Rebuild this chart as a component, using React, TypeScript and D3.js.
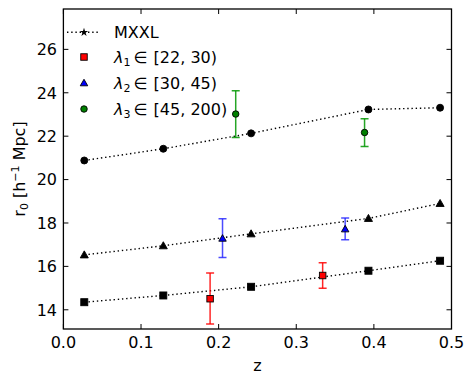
import React from "react";
import * as d3 from "d3";

const mxxlZ = [0.0269, 0.1287, 0.2418, 0.393, 0.4853];
const mxxlSample1 = [14.35, 14.66, 15.06, 15.8, 16.26];
const mxxlSample2 = [16.53, 16.95, 17.5, 18.21, 18.9];
const mxxlSample3 = [20.88, 21.42, 22.13, 23.23, 23.31];

const s1Z = [0.189, 0.334];
const s1R = [14.51, 15.58];
const s1Lo = [13.34, 14.99];
const s1Hi = [15.7, 16.17];

const s2Z = [0.205, 0.363];
const s2R = [17.29, 17.72];
const s2Lo = [16.41, 17.23];
const s2Hi = [18.19, 18.23];

const s3Z = [0.222, 0.388];
const s3R = [23.02, 22.17];
const s3Lo = [21.94, 21.53];
const s3Hi = [24.09, 22.8];

const xTicks = [0.0, 0.1, 0.2, 0.3, 0.4, 0.5];
const yTicks = [14, 16, 18, 20, 22, 24, 26];

const W = 474;
const H = 385;
const L = 63.4, R = 451.5, T = 9, B = 329;
const FONT = "DejaVu Sans";

const x = d3.scaleLinear().domain([0, 0.5]).range([L, R]);
const y = d3.scaleLinear().domain([13.115, 27.86]).range([B, T]);

function Marker({ shape, cx, cy, fill, size = 7 }: any) {
  const h = size / 2;
  if (shape === "s")
    return <rect x={cx - h} y={cy - h} width={size} height={size} fill={fill} stroke="black" strokeWidth={0.9} />;
  if (shape === "o")
    return <circle cx={cx} cy={cy} r={h} fill={fill} stroke="black" strokeWidth={0.9} />;
  if (shape === "^") {
    const r = h * 1.15;
    return (
      <path
        d={`M${cx},${cy - r} L${cx + r},${cy + r * 0.75} L${cx - r},${cy + r * 0.75} Z`}
        fill={fill}
        stroke="black"
        strokeWidth={0.9}
      />
    );
  }
  const star = d3.symbol(d3.symbolStar, 22)();
  return <path d={star as string} transform={`translate(${cx},${cy})`} fill={fill} />;
}

function Series({ zs, rs, shape }: any) {
  const gen = d3
    .line<[number, number]>()
    .x((d) => x(d[0]))
    .y((d) => y(d[1]));
  const pts: [number, number][] = zs.map((z: number, i: number) => [z, rs[i]]);
  return (
    <g>
      <path d={gen(pts) as string} fill="none" stroke="black" strokeWidth={1.4} strokeDasharray="1.4 2.8" />
      {pts.map((p, i) => (
        <Marker key={i} shape={shape} cx={x(p[0])} cy={y(p[1])} fill="black" />
      ))}
    </g>
  );
}

function ErrSeries({ zs, rs, lo, hi, shape, fill, ecolor }: any) {
  return (
    <g>
      {zs.map((z: number, i: number) => {
        const cx = x(z);
        return (
          <g key={i}>
            <line x1={cx} x2={cx} y1={y(lo[i])} y2={y(hi[i])} stroke={ecolor} strokeWidth={1.5} />
            <line x1={cx - 4} x2={cx + 4} y1={y(lo[i])} y2={y(lo[i])} stroke={ecolor} strokeWidth={1.5} />
            <line x1={cx - 4} x2={cx + 4} y1={y(hi[i])} y2={y(hi[i])} stroke={ecolor} strokeWidth={1.5} />
            <Marker shape={shape} cx={cx} cy={y(rs[i])} fill={fill} size={6.5} />
          </g>
        );
      })}
    </g>
  );
}

export default function App() {
  const legendX = 84;
  const textX = 114;
  const legendRows = [
    { y: 32.3, shape: "*", fill: "black", lo: "", sub: "", rest: "MXXL" },
    { y: 57, shape: "s", fill: "#ff0000", lo: "λ", sub: "1", rest: "[22, 30)" },
    { y: 83, shape: "^", fill: "#0000ff", lo: "λ", sub: "2", rest: "[30, 45)" },
    { y: 109, shape: "o", fill: "#008000", lo: "λ", sub: "3", rest: "[45, 200)" },
  ];
  return (
    <svg width={W} height={H} style={{ position: "absolute", left: 0, top: 0 }} fontFamily={FONT}>
      <rect width={W} height={H} fill="white" />
      <defs>
        <clipPath id="clip">
          <rect x={L} y={T} width={R - L} height={B - T} />
        </clipPath>
      </defs>

      <g clipPath="url(#clip)">
        <Series zs={mxxlZ} rs={mxxlSample1} shape="s" />
        <Series zs={mxxlZ} rs={mxxlSample2} shape="^" />
        <Series zs={mxxlZ} rs={mxxlSample3} shape="o" />
        <ErrSeries zs={s1Z} rs={s1R} lo={s1Lo} hi={s1Hi} shape="s" fill="#ff0000" ecolor="rgba(255,0,0,0.85)" />
        <ErrSeries zs={s2Z} rs={s2R} lo={s2Lo} hi={s2Hi} shape="^" fill="#0000ff" ecolor="rgba(30,30,255,0.8)" />
        <ErrSeries zs={s3Z} rs={s3R} lo={s3Lo} hi={s3Hi} shape="o" fill="#008000" ecolor="rgba(0,150,0,0.85)" />
      </g>

      {xTicks.map((t) => (
        <g key={"x" + t}>
          <line x1={x(t)} x2={x(t)} y1={B} y2={B - 5} stroke="black" strokeWidth={1} />
          <line x1={x(t)} x2={x(t)} y1={T} y2={T + 5} stroke="black" strokeWidth={1} />
          <text x={x(t)} y={348} fontSize={16} textAnchor="middle" fill="black">
            {t.toFixed(1)}
          </text>
        </g>
      ))}
      {yTicks.map((t) => (
        <g key={"y" + t}>
          <line x1={L} x2={L + 5} y1={y(t)} y2={y(t)} stroke="black" strokeWidth={1} />
          <line x1={R} x2={R - 5} y1={y(t)} y2={y(t)} stroke="black" strokeWidth={1} />
          <text x={57} y={y(t)} dy="0.36em" fontSize={16} textAnchor="end" fill="black">
            {t}
          </text>
        </g>
      ))}

      <rect x={L} y={T} width={R - L} height={B - T} fill="none" stroke="black" strokeWidth={1.3} />

      {legendRows.map((r, i) => (
        <g key={i}>
          {i === 0 && (
            <line x1={67} x2={98} y1={r.y} y2={r.y} stroke="black" strokeWidth={1.4} strokeDasharray="1.4 2.8" />
          )}
          <Marker shape={r.shape} cx={legendX} cy={r.y} fill={r.fill} size={6.5} />
          <text x={textX} y={r.y} dy="0.36em" fontSize={16} fill="black">
            {r.lo ? (
              <>
                <tspan fontStyle="italic">{r.lo}</tspan>
                <tspan fontSize={11} dy={3}>{r.sub}</tspan>
                <tspan dy={-3}>{"\u2009∈"}</tspan>
                <tspan dx={6}>{r.rest}</tspan>
              </>
            ) : (
              r.rest
            )}
          </text>
        </g>
      ))}

      <text x={(L + R) / 2} y={371} fontSize={16} textAnchor="middle" fill="black">
        z
      </text>
      <text transform={`translate(25,${(T + B) / 2}) rotate(-90)`} fontSize={16} textAnchor="middle" fill="black">
        r<tspan fontSize={11} dy={3}>0</tspan>
        <tspan dy={-3}> [h</tspan>
        <tspan fontSize={11} dy={-6}>−1</tspan>
        <tspan dy={6}> Mpc]</tspan>
      </text>
    </svg>
  );
}
